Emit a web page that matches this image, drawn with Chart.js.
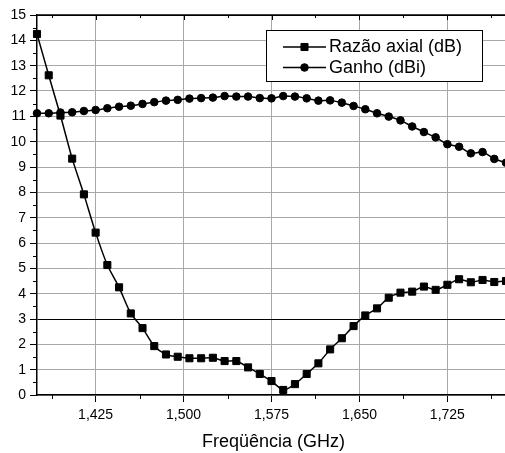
<!DOCTYPE html>
<html>
<head>
<meta charset="utf-8">
<script src="https://cdn.jsdelivr.net/npm/chart.js@4/dist/chart.umd.min.js"></script>
<style>
html,body{margin:0;padding:0;background:#fff;overflow:hidden;}
#wrap{position:absolute;left:0;top:0;width:506px;height:453px;}
</style>
</head>
<body>
<div id="wrap"><canvas id="c" width="506" height="453"></canvas></div>
<script>
const freqs = [1.375,1.385,1.395,1.405,1.415,1.425,1.435,1.445,1.455,1.465,1.475,1.485,1.495,1.505,1.515,1.525,1.535,1.545,1.555,1.565,1.575,1.585,1.595,1.605,1.615,1.625,1.635,1.645,1.655,1.665,1.675,1.685,1.695,1.705,1.715,1.725,1.735,1.745,1.755,1.765,1.775];
const axialRatio = [14.25,12.62,11.03,9.33,7.92,6.41,5.13,4.25,3.22,2.64,1.93,1.6,1.51,1.45,1.45,1.47,1.34,1.34,1.09,0.83,0.55,0.2,0.43,0.83,1.25,1.8,2.24,2.72,3.14,3.42,3.84,4.04,4.08,4.28,4.15,4.35,4.57,4.45,4.54,4.46,4.5];
const gain = [11.12,11.12,11.15,11.16,11.21,11.25,11.32,11.38,11.42,11.49,11.56,11.62,11.65,11.7,11.72,11.74,11.8,11.78,11.78,11.72,11.71,11.8,11.78,11.71,11.62,11.63,11.54,11.41,11.28,11.12,10.99,10.84,10.6,10.38,10.17,9.9,9.8,9.54,9.59,9.32,9.17];
const xTickValues = [1.425,1.5,1.575,1.65,1.725];
const xTickLabels = ['1,425','1,500','1,575','1,650','1,725'];
const xMinorTicks = [1.3875,1.4625,1.5375,1.6125,1.6875,1.7625];
const seriesLabels = ['Razão axial (dB)','Ganho (dBi)'];
const xTitle = 'Freqüência (GHz)';

const FONT = '"Liberation Sans", Arial, sans-serif';

const extras = {
  id:'extras',
  afterDatasetsDraw(chart){
    const ctx = chart.ctx, ca = chart.chartArea;
    const xs = chart.scales.x, ys = chart.scales.y;
    ctx.save();
    ctx.strokeStyle = '#000';
    ctx.lineWidth = 1;
    xMinorTicks.forEach(v=>{
      const px = Math.round(xs.getPixelForValue(v))+0.5;
      ctx.beginPath(); ctx.moveTo(px, ca.bottom); ctx.lineTo(px, ca.bottom+4); ctx.stroke();
      ctx.beginPath(); ctx.moveTo(px, ca.top); ctx.lineTo(px, ca.top+3); ctx.stroke();
    });
    xTickValues.forEach(v=>{
      const px = Math.round(xs.getPixelForValue(v))+0.5;
      ctx.beginPath(); ctx.moveTo(px, ca.top); ctx.lineTo(px, ca.top+5); ctx.stroke();
    });
    for (let i=0;i<15;i++){
      const py = Math.round(ys.getPixelForValue(i+0.5))+0.5;
      ctx.beginPath(); ctx.moveTo(ca.left-4, py); ctx.lineTo(ca.left, py); ctx.stroke();
    }
    ctx.lineWidth = 1.5;
    ctx.beginPath(); ctx.moveTo(ca.left, ca.top); ctx.lineTo(ca.right, ca.top); ctx.stroke();
    ctx.restore();
  },
  afterDraw(chart){
    const ctx = chart.ctx;
    ctx.save();
    ctx.fillStyle = '#000';
    ctx.font = '18px ' + FONT;
    ctx.textAlign = 'center';
    ctx.textBaseline = 'middle';
    ctx.fillText(xTitle, 273.5, 442);
    const bx = 266.5, by = 30.5, bw = 216, bh = 51;
    ctx.fillStyle = '#fff';
    ctx.fillRect(bx, by, bw, bh);
    ctx.strokeStyle = '#000';
    ctx.lineWidth = 1;
    ctx.strokeRect(bx, by, bw, bh);
    const rows = [47, 67.5];
    chart.data.datasets.forEach((ds,i)=>{
      const y = rows[i];
      ctx.strokeStyle = '#000';
      ctx.lineWidth = 1.5;
      ctx.beginPath(); ctx.moveTo(283, y); ctx.lineTo(326, y); ctx.stroke();
      ctx.fillStyle = '#000';
      ctx.lineWidth = 1;
      Chart.helpers.drawPoint(ctx, {pointStyle: ds.pointStyle, radius: ds.pointRadius, borderWidth: 1}, 304.5, y);
      ctx.fillStyle = '#000';
      ctx.font = '18px ' + FONT;
      ctx.textAlign = 'left';
      ctx.textBaseline = 'middle';
      ctx.fillText(ds.label, 329, y+0.5);
    });
    ctx.restore();
  }
};

new Chart(document.getElementById('c'), {
  type:'line',
  data:{
    datasets:[
      {label:seriesLabels[0], data: freqs.map((f,i)=>({x:f,y:axialRatio[i]})), borderColor:'#000', backgroundColor:'#000', borderWidth:1.5, pointStyle:'rect', pointRadius:5, pointBorderWidth:1, tension:0.25, clip:false},
      {label:seriesLabels[1], data: freqs.map((f,i)=>({x:f,y:gain[i]})), borderColor:'#000', backgroundColor:'#000', borderWidth:1.5, pointStyle:'circle', pointRadius:3.8, pointBorderWidth:1, tension:0.25, clip:false}
    ]
  },
  options:{
    responsive:false,
    animation:false,
    devicePixelRatio:1,
    layout:{autoPadding:false, padding:{top:15,left:0,right:0,bottom:0}},
    plugins:{legend:{display:false}, tooltip:{enabled:false}},
    scales:{
      x:{
        type:'linear', min:1.375, max:1.775,
        afterBuildTicks(scale){ scale.ticks = xTickValues.map(v=>({value:v})); },
        afterFit(scale){ scale.height = 58; scale.paddingLeft = 0; scale.paddingRight = 0; },
        ticks:{ callback:(v,i)=>xTickLabels[i], color:'#000', font:{family:FONT,size:14}, padding:5, maxRotation:0, autoSkip:false },
        grid:{ color:'#a8a8a8', lineWidth:1, tickColor:'#000', tickLength:7, tickWidth:1 },
        border:{ display:true, color:'#000', width:1.5 }
      },
      y:{
        min:0, max:15,
        afterFit(scale){ scale.width = 37; scale.paddingTop = 0; scale.paddingBottom = 0; },
        ticks:{ stepSize:1, color:'#000', font:{family:FONT,size:14}, padding:4 },
        grid:{ color:(c)=> (c.tick && (c.tick.value===3 || c.tick.value===15)) ? '#000' : '#a8a8a8', lineWidth:1, tickColor:'#000', tickLength:7, tickWidth:1 },
        border:{ display:true, color:'#000', width:1.5 }
      }
    }
  },
  plugins:[extras]
});
</script>
</body>
</html>
